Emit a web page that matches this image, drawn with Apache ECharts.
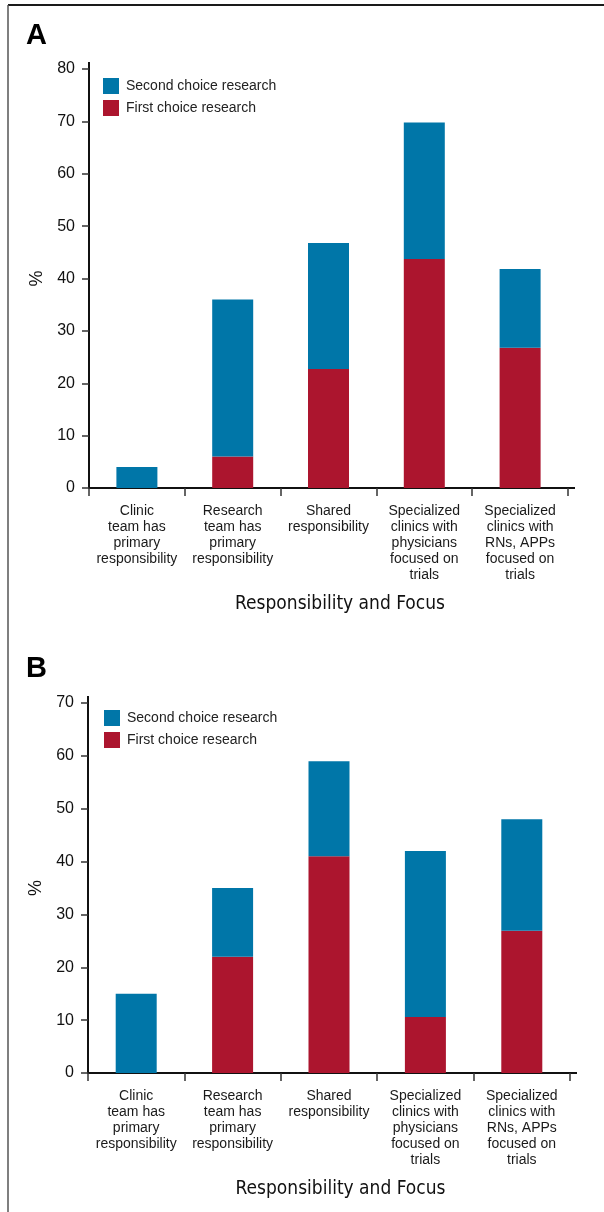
<!DOCTYPE html>
<html>
<head>
<meta charset="utf-8">
<style>
  html, body { margin: 0; padding: 0; background: #fff; }
  #chart { width: 604px; height: 1212px; }
</style>
<script src="https://cdn.jsdelivr.net/npm/echarts@6/dist/echarts.min.js"></script>
</head>
<body>
<div id="chart"></div>
<script>
// Categories shared by both panels
const categories = [
  'Clinic\nteam has\nprimary\nresponsibility',
  'Research\nteam has\nprimary\nresponsibility',
  'Shared\nresponsibility',
  'Specialized\nclinics with\nphysicians\nfocused on\ntrials',
  'Specialized\nclinics with\nRNs, APPs\nfocused on\ntrials'
];

// Panel A (%)
const firstChoiceA  = [0, 6, 22.7, 43.7, 26.8];
const secondChoiceA = [4, 30, 24.1, 26.1, 15];

// Panel B (%)
const firstChoiceB  = [0, 22, 41, 10.6, 26.9];
const secondChoiceB = [15, 13, 18, 31.4, 21.1];

const yMaxA = 80;
const yMaxB = 70;
const yStep = 10;

const seriesNames = ['Second choice research', 'First choice research'];
const panelLetters = ['A', 'B'];
const xTitle = 'Responsibility and Focus';
const yTitle = '%';

const BLUE = '#0076A8';
const RED = '#AC152E';
const FONT = "'Liberation Sans', Arial, Helvetica, sans-serif";
const NARROW = "'Liberation Sans Narrow', 'DejaVu Sans Condensed', 'Liberation Sans', sans-serif";

const grids = [
  { left: 89, right: 36, top: 69, bottom: 724 },
  { left: 88, right: 34, top: 703, bottom: 139 }
];

function xAxisFor(i) {
  return {
    type: 'category',
    gridIndex: i,
    data: categories,
    boundaryGap: true,
    axisLine: { show: true, lineStyle: { color: '#111', width: 2 } },
    axisTick: { show: true, length: 8, alignWithLabel: false, lineStyle: { color: '#333', width: 1.5 } },
    axisLabel: {
      interval: 0, margin: 15, color: '#1a1a1a',
      fontFamily: FONT, fontSize: 14, lineHeight: 16
    },
    name: xTitle,
    nameLocation: 'middle',
    nameGap: 107,
    nameTextStyle: {
      fontFamily: NARROW, fontSize: 19, color: '#111',
      padding: [0, 0, 0, 23]
    }
  };
}

function yAxisFor(i, max) {
  return {
    type: 'value',
    gridIndex: i,
    min: 0, max: max, interval: yStep,
    splitLine: { show: false },
    axisLine: { show: true, lineStyle: { color: '#111', width: 2 } },
    axisTick: { show: true, length: 7, lineStyle: { color: '#333', width: 1.5 } },
    axisLabel: { margin: 14, color: '#111', fontFamily: FONT, fontSize: 16 },
    name: yTitle,
    nameLocation: 'middle',
    nameRotate: 90,
    nameGap: 43,
    nameTextStyle: { fontFamily: FONT, fontSize: 18, color: '#111' }
  };
}

function barSeries(name, data, color, i) {
  return {
    name: name,
    type: 'bar',
    stack: 'panel' + i,
    xAxisIndex: i,
    yAxisIndex: i,
    data: data,
    barWidth: 41,
    itemStyle: { color: color },
    emphasis: { disabled: true }
  };
}

function legendFor(i, left, top) {
  return {
    show: true,
    orient: 'vertical',
    left: left, top: top,
    itemWidth: 16, itemHeight: 16, itemGap: 6,
    icon: 'rect',
    data: seriesNames,
    selectedMode: false,
    textStyle: { fontFamily: FONT, fontSize: 14, color: '#222', padding: [0, 0, 0, 2] }
  };
}

const chart = echarts.init(document.getElementById('chart'), null, { renderer: 'canvas' });

const option = {
  animation: false,
  backgroundColor: '#fff',
  grid: grids,
  xAxis: [xAxisFor(0), xAxisFor(1)],
  yAxis: [yAxisFor(0, yMaxA), yAxisFor(1, yMaxB)],
  legend: [legendFor(0, 98, 73), legendFor(1, 99, 705)],
  series: [
    barSeries(seriesNames[1], firstChoiceA, RED, 0),
    barSeries(seriesNames[0], secondChoiceA, BLUE, 0),
    barSeries(seriesNames[1], firstChoiceB, RED, 1),
    barSeries(seriesNames[0], secondChoiceB, BLUE, 1)
  ]
};
chart.setOption(option);

// Frame lines, panel letters and short axis overhangs past the plot area
function overhangs(i, yMax) {
  const origin = chart.convertToPixel({ gridIndex: i }, [0, 0]);
  const catW = chart.convertToPixel({ gridIndex: i }, [1, 0])[0] - origin[0];
  const xEnd = origin[0] - catW / 2 + catW * categories.length;
  const yTop = chart.convertToPixel({ gridIndex: i }, [0, yMax])[1];
  const x0 = origin[0] - catW / 2;
  const y0 = origin[1];
  return [
    { type: 'line', shape: { x1: xEnd, y1: y0, x2: xEnd + 7, y2: y0 }, style: { stroke: '#111', lineWidth: 2 } },
    { type: 'line', shape: { x1: x0, y1: yTop, x2: x0, y2: yTop - 7 }, style: { stroke: '#111', lineWidth: 2 } }
  ];
}

chart.setOption({
  graphic: [
    { type: 'line', shape: { x1: 8, y1: 5, x2: 604, y2: 5 }, style: { stroke: '#1a1a1a', lineWidth: 2 } },
    { type: 'line', shape: { x1: 8, y1: 5, x2: 8, y2: 1212 }, style: { stroke: '#555', lineWidth: 1.5 } },
    { type: 'text', x: 26, y: 36, style: { text: panelLetters[0], font: "bold 29px 'Liberation Sans', Arial, sans-serif", fill: '#000', verticalAlign: 'middle' } },
    { type: 'text', x: 26, y: 669, style: { text: panelLetters[1], font: "bold 29px 'Liberation Sans', Arial, sans-serif", fill: '#000', verticalAlign: 'middle' } }
  ].concat(overhangs(0, yMaxA), overhangs(1, yMaxB))
});
</script>
</body>
</html>
